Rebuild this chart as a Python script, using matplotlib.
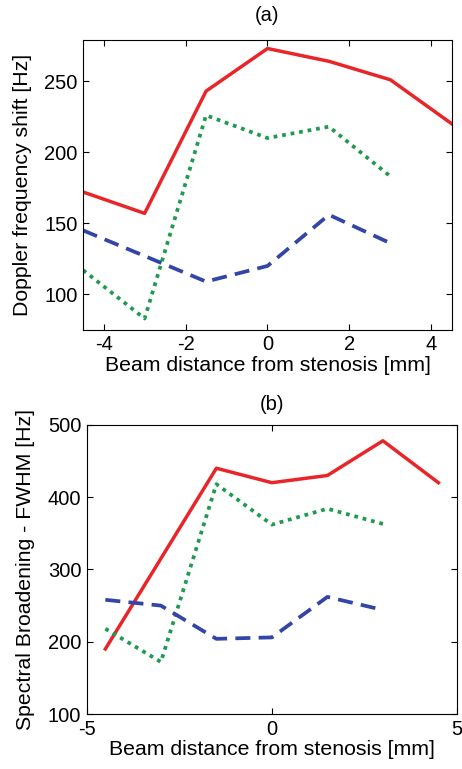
import matplotlib
matplotlib.use("Agg")
import matplotlib.pyplot as plt

plt.rcParams["font.family"] = ["Liberation Sans", "DejaVu Sans"]
plt.rcParams["axes.unicode_minus"] = False

x_a = [-4.5, -3, -1.5, 0, 1.5, 3, 4.5]
red_a = [172, 157, 243, 273, 264, 251, 220]
green_a = [117, 83, 226, 210, 218, 183]
blue_a = [145, 127, 109, 120, 156, 136]

x_b = [-4.5, -3, -1.5, 0, 1.5, 3, 4.5]
red_b = [190, 315, 440, 420, 430, 478, 420]
green_b = [218, 172, 418, 362, 384, 363]
blue_b = [258, 250, 204, 206, 262, 244]

red = "#e8262a"
green = "#1f9a4e"
blue = "#3346a8"

fig = plt.figure(figsize=(4.62, 7.69), dpi=100)
ax1 = fig.add_axes([0.180, 0.571, 0.798, 0.377])
ax2 = fig.add_axes([0.188, 0.0715, 0.801, 0.376])


def style(ax):
    ax.tick_params(direction="in", top=True, right=True, labelsize=14.5,
                   length=4, pad=4)
    for s in ax.spines.values():
        s.set_linewidth(0.8)


ax1.plot(x_a, red_a, color=red, lw=2.5, ls="-")
ax1.plot(x_a[:6], green_a, color=green, lw=2.7, ls=(0, (1, 1.3)))
ax1.plot(x_a[:6], blue_a, color=blue, lw=2.7, ls=(0, (4, 2.2)))
ax1.set_xlim(-4.5, 4.5)
ax1.set_ylim(75, 279)
ax1.set_xticks([-4, -2, 0, 2, 4])
ax1.set_yticks([100, 150, 200, 250])
ax1.set_xlabel("Beam distance from stenosis [mm]", fontsize=15.3, labelpad=1)
ax1.set_ylabel("Doppler frequency shift [Hz]", fontsize=15.3, labelpad=9)
ax1.set_title("(a)", fontsize=14.5, pad=14)
style(ax1)

ax2.plot(x_b, red_b, color=red, lw=2.5, ls="-")
ax2.plot(x_b[:6], green_b, color=green, lw=2.7, ls=(0, (1, 1.3)))
ax2.plot(x_b[:6], blue_b, color=blue, lw=2.7, ls=(0, (4, 2.2)))
ax2.set_xlim(-5, 5)
ax2.set_ylim(100, 500)
ax2.set_xticks([-5, 0, 5])
ax2.set_yticks([100, 200, 300, 400, 500])
ax2.set_xlabel("Beam distance from stenosis [mm]", fontsize=15.3, labelpad=1)
ax2.set_ylabel("Spectral Broadening - FWHM [Hz]", fontsize=15.3, labelpad=9)
ax2.set_title("(b)", fontsize=14.5, pad=11)
style(ax2)

fig.savefig("out.png", dpi=100)
